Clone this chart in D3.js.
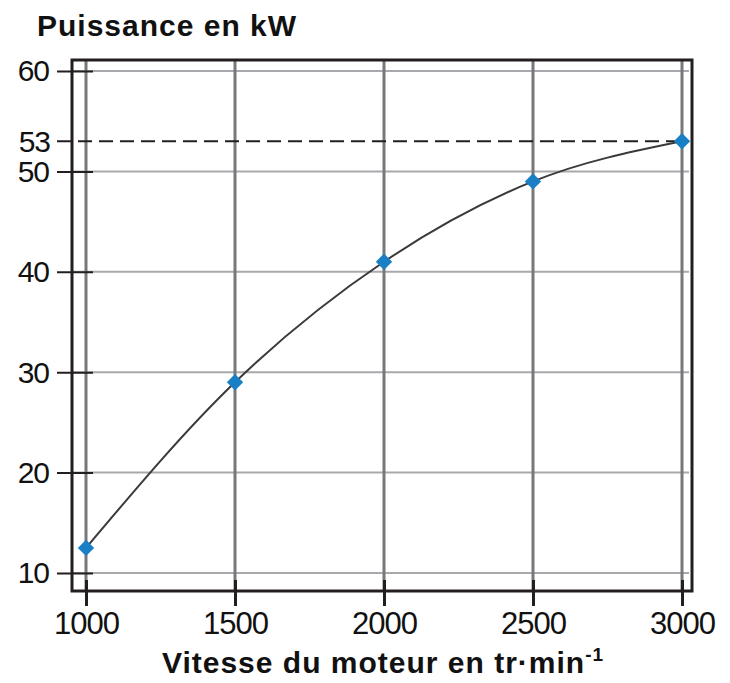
<!DOCTYPE html>
<html>
<head>
<meta charset="utf-8">
<script src="https://cdn.jsdelivr.net/npm/d3@7"></script>
<style>
  html, body { margin: 0; padding: 0; background: #fff; }
  svg { display: block; font-family: "Liberation Sans", Arial, Helvetica, sans-serif; }
</style>
</head>
<body>
<svg id="chart" width="730" height="683"></svg>
<script>
// ---- data ----
const speeds = [1000, 1500, 2000, 2500, 3000];
const power = [12.5, 29, 41, 49, 53];
const yTicks = [10, 20, 30, 40, 50, 60];
const markedValue = 53;
const xTicks = [1000, 1500, 2000, 2500, 3000];
const yTitle = "Puissance en kW";
const xTitle = "Vitesse du moteur en tr·min";

const svg = d3.select("#chart");
const frame = { left: 72, right: 692, top: 60, bottom: 591 };

const x = d3.scaleLinear().domain([1000, 3000]).range([86, 682]);
const y = d3.scaleLinear().domain([10, 60]).range([573, 71]);

const dark = "#231f20";
const FONT = "'Liberation Sans', Arial, sans-serif";

// horizontal grid
svg.append("g").selectAll("line").data(yTicks).join("line")
  .attr("x1", frame.left).attr("x2", 689)
  .attr("y1", d => y(d)).attr("y2", d => y(d))
  .attr("stroke", "#a7a9ac").attr("stroke-width", 2);

// vertical grid
svg.append("g").selectAll("line").data(xTicks).join("line")
  .attr("x1", d => x(d)).attr("x2", d => x(d))
  .attr("y1", frame.top).attr("y2", frame.bottom)
  .attr("stroke", "#78787b").attr("stroke-width", 3);

// y axis (ticks crossing the left frame)
const yAxis = svg.append("g")
  .attr("transform", "translate(93,0)")
  .call(d3.axisLeft(y).tickValues(yTicks).tickSize(36).tickPadding(8).tickFormat(d3.format("d")));
yAxis.select(".domain").remove();
yAxis.selectAll(".tick line").attr("stroke", dark).attr("stroke-width", 2);
yAxis.selectAll(".tick text").attr("font-size", 30).attr("fill", "#111").attr("dy", "0.33em")
  .attr("font-family", FONT).attr("letter-spacing", -1);

// 53 label
svg.append("text")
  .attr("x", 50).attr("y", y(markedValue)).attr("dy", "0.35em")
  .attr("text-anchor", "end").attr("font-size", 30).attr("fill", "#111")
  .attr("letter-spacing", -1)
  .text(markedValue);

// dashed reference line
svg.append("line")
  .attr("x1", 57).attr("x2", x(3000))
  .attr("y1", y(markedValue)).attr("y2", y(markedValue))
  .attr("stroke", dark).attr("stroke-width", 2)
  .attr("stroke-dasharray", "14,7");

// x axis ticks
const xAxis = svg.append("g")
  .attr("transform", "translate(0,580)")
  .call(d3.axisBottom(x).tickValues(xTicks).tickSize(26).tickPadding(6).tickFormat(d3.format("d")));
xAxis.select(".domain").remove();
xAxis.selectAll(".tick line").attr("stroke", dark).attr("stroke-width", 3);
xAxis.selectAll(".tick text").attr("font-size", 31).attr("fill", "#111")
  .attr("font-family", FONT).attr("letter-spacing", -1);

// curve
const pts = speeds.map((s, i) => [s, power[i]]);
svg.append("path")
  .datum(pts)
  .attr("fill", "none")
  .attr("stroke", "#3a3a3a")
  .attr("stroke-width", 2)
  .attr("d", d3.line().x(d => x(d[0])).y(d => y(d[1])).curve(d3.curveMonotoneX));

// markers
svg.append("g").selectAll("path").data(pts).join("path")
  .attr("transform", d => `translate(${x(d[0])},${y(d[1])})`)
  .attr("d", d3.symbol().type(d3.symbolDiamond2).size(170))
  .attr("fill", "#1a80c6");

// frame
svg.append("rect")
  .attr("x", frame.left).attr("y", frame.top)
  .attr("width", frame.right - frame.left).attr("height", frame.bottom - frame.top)
  .attr("fill", "none").attr("stroke", dark).attr("stroke-width", 3);

// titles
svg.append("text")
  .attr("x", 37).attr("y", 36)
  .attr("font-size", 30).attr("font-weight", "bold").attr("fill", "#111")
  .attr("letter-spacing", 1)
  .text(yTitle);

const xt = svg.append("text")
  .attr("x", 383).attr("y", 673)
  .attr("text-anchor", "middle")
  .attr("font-size", 30).attr("font-weight", "bold").attr("fill", "#111")
  .attr("letter-spacing", 1);
xt.append("tspan").text(xTitle);
xt.append("tspan").attr("font-size", 19).attr("dy", -12).text("-1");
</script>
</body>
</html>
